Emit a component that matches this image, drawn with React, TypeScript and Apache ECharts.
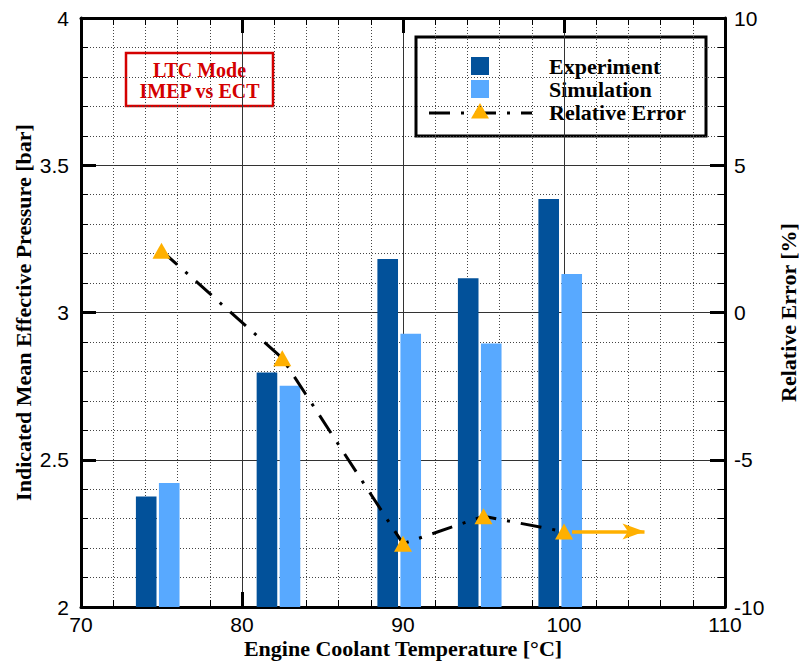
import React, { useEffect, useRef } from "react";
import * as echarts from "echarts";

// ---- Data ----
const ectValues = [75, 82.5, 90, 95, 100]; // Engine coolant temperature [°C]
const imepExperiment = [2.375, 2.796, 3.182, 3.116, 3.385]; // bar
const imepSimulation = [2.421, 2.751, 2.928, 2.895, 3.131]; // bar
const relativeError = [2.1, -1.55, -7.85, -6.92, -7.44]; // %
const arrowEndEct = 105;

const xTicks = { min: 70, max: 110, interval: 10 };
const yLeftTicks = { min: 2, max: 4, interval: 0.5 };
const yRightTicks = { min: -10, max: 10, interval: 5 };

const legendLabels = ["Experiment", "Simulation", "Relative Error"];
const annotationLines = ["LTC Mode", "IMEP vs ECT"];

// ---- Styles ----
const EXP_COLOR = "#02519A";
const SIM_COLOR = "#58A9FF";
const ERR_COLOR = "#FFB000";
const SERIF = "'Liberation Serif', 'Times New Roman', serif";
const SANS = "'Liberation Sans', Arial, sans-serif";
const ERR_DASH = [21, 11, 3, 11];

function barSeries(name: string, values: number[], offset: number, color: string) {
  const halfW = 0.64;
  return {
    name,
    type: "custom",
    xAxisIndex: 0,
    yAxisIndex: 0,
    z: 2,
    data: ectValues.map((x, i) => [x, values[i]]),
    renderItem: (params: any, api: any) => {
      const x = api.value(0);
      const y = api.value(1);
      const p0 = api.coord([x + offset - halfW, y]);
      const p1 = api.coord([x + offset + halfW, yLeftTicks.min]);
      return {
        type: "rect",
        shape: { x: p0[0], y: p0[1], width: p1[0] - p0[0], height: p1[1] - p0[1] },
        style: { fill: color },
      };
    },
  };
}

export default function App() {
  const ref = useRef<HTMLDivElement>(null);

  useEffect(() => {
    document.body.style.margin = "0";
    if (!ref.current) return;
    const chart = echarts.init(ref.current, undefined, { renderer: "svg" });

    const axisLine = { show: true, onZero: false, lineStyle: { color: "#000", width: 3 } };
    const axisTick = { show: true, inside: true, length: 15, lineStyle: { color: "#000", width: 3 } };
    const minorTick = { show: true, splitNumber: 5, length: 7, lineStyle: { color: "#000", width: 1 } };
    const splitLine = { show: true, lineStyle: { color: "#333", width: 1 } };
    const minorSplitLine = { show: true, lineStyle: { color: "#444", width: 1, type: [1, 2] } };
    const tickLabel = { color: "#000", fontFamily: SANS, fontSize: 21, lineHeight: 21 };
    const nameStyle = { color: "#000", fontFamily: SERIF, fontWeight: "bold", fontSize: 22, lineHeight: 22 };

    const lastErr = relativeError[relativeError.length - 1];
    const lastEct = ectValues[ectValues.length - 1];

    const option: any = {
      animation: false,
      backgroundColor: "#fff",
      grid: {
        left: 81,
        right: 74,
        top: 18,
        bottom: 54,
        containLabel: false,
        outerBoundsMode: "none",
      },
      xAxis: [
        {
          type: "value",
          position: "bottom",
          ...xTicks,
          axisLine,
          axisTick,
          minorTick,
          splitLine,
          minorSplitLine,
          axisLabel: { ...tickLabel, margin: 7 },
          name: "Engine Coolant Temperature [°C]",
          nameLocation: "middle",
          nameGap: 30,
          nameMoveOverlap: false,
          nameTextStyle: nameStyle,
        },
        {
          type: "value",
          position: "top",
          ...xTicks,
          axisLine,
          axisTick,
          minorTick,
          splitLine: { show: false },
          axisLabel: { show: false },
        },
      ],
      yAxis: [
        {
          type: "value",
          position: "left",
          ...yLeftTicks,
          axisLine,
          axisTick,
          minorTick,
          splitLine,
          minorSplitLine,
          axisLabel: { ...tickLabel, margin: 12 },
          name: "Indicated Mean Effective Pressure [bar]",
          nameLocation: "middle",
          nameGap: 47,
          nameMoveOverlap: false,
          nameRotate: 90,
          nameTextStyle: nameStyle,
        },
        {
          type: "value",
          position: "right",
          ...yRightTicks,
          axisLine,
          axisTick,
          minorTick,
          splitLine: { show: false },
          axisLabel: { ...tickLabel, margin: 9 },
          name: "Relative Error [%]",
          nameLocation: "middle",
          nameGap: 52,
          nameMoveOverlap: false,
          nameRotate: 90,
          nameTextStyle: nameStyle,
        },
      ],
      series: [
        barSeries(legendLabels[0], imepExperiment, -0.95, EXP_COLOR),
        barSeries(legendLabels[1], imepSimulation, 0.48, SIM_COLOR),
        {
          name: "arrow",
          type: "line",
          xAxisIndex: 0,
          yAxisIndex: 1,
          z: 3,
          data: [],
          markLine: {
            silent: true,
            symbol: ["none", "arrow"],
            symbolSize: [12, 22],
            label: { show: false },
            lineStyle: { color: ERR_COLOR, width: 3.5, type: "solid" },
            data: [[{ coord: [lastEct + 0.5, lastErr] }, { coord: [arrowEndEct, lastErr] }]],
          },
        },
        {
          name: legendLabels[2],
          type: "line",
          xAxisIndex: 0,
          yAxisIndex: 1,
          z: 4,
          data: ectValues.map((x, i) => [x, relativeError[i]]),
          symbol: "triangle",
          symbolSize: [18, 16],
          itemStyle: { color: ERR_COLOR },
          lineStyle: { color: "#000", width: 3, type: ERR_DASH, cap: "butt" },
        },
      ],
      graphic: [
        // annotation box
        {
          type: "group",
          z: 20,
          children: [
            {
              type: "rect",
              shape: { x: 126, y: 53, width: 147, height: 53 },
              style: { fill: "#fff", stroke: "#D40000", lineWidth: 2.5 },
            },
            ...annotationLines.map((t, i) => ({
              type: "text",
              x: 199.5,
              y: [70, 91][i],
              style: {
                text: t,
                fill: "#D40000",
                font: `bold 20px ${SERIF}`,
                align: "center",
                verticalAlign: "middle",
              },
            })),
          ],
        },
        // legend box
        {
          type: "group",
          z: 20,
          children: [
            {
              type: "rect",
              shape: { x: 416, y: 37, width: 290, height: 99 },
              style: { fill: "#fff", stroke: "#000", lineWidth: 3 },
            },
            {
              type: "rect",
              shape: { x: 471, y: 57, width: 18, height: 18 },
              style: { fill: EXP_COLOR },
            },
            {
              type: "rect",
              shape: { x: 471, y: 80, width: 18, height: 18 },
              style: { fill: SIM_COLOR },
            },
            {
              type: "line",
              shape: { x1: 429, y1: 113, x2: 532, y2: 113 },
              style: { stroke: "#000", lineWidth: 3, lineDash: ERR_DASH },
            },
            {
              type: "polygon",
              shape: { points: [[480, 103], [489, 118.5], [471, 118.5]] },
              style: { fill: ERR_COLOR },
            },
            ...legendLabels.map((t, i) => ({
              type: "text",
              x: 549,
              y: [66.5, 89.5, 112.5][i],
              style: {
                text: t,
                fill: "#000",
                font: `bold 22px ${SERIF}`,
                align: "left",
                verticalAlign: "middle",
              },
            })),
          ],
        },
      ],
    };

    chart.setOption(option);
    return () => chart.dispose();
  }, []);

  return <div ref={ref} style={{ width: 799, height: 661, overflow: "hidden" }} />;
}
